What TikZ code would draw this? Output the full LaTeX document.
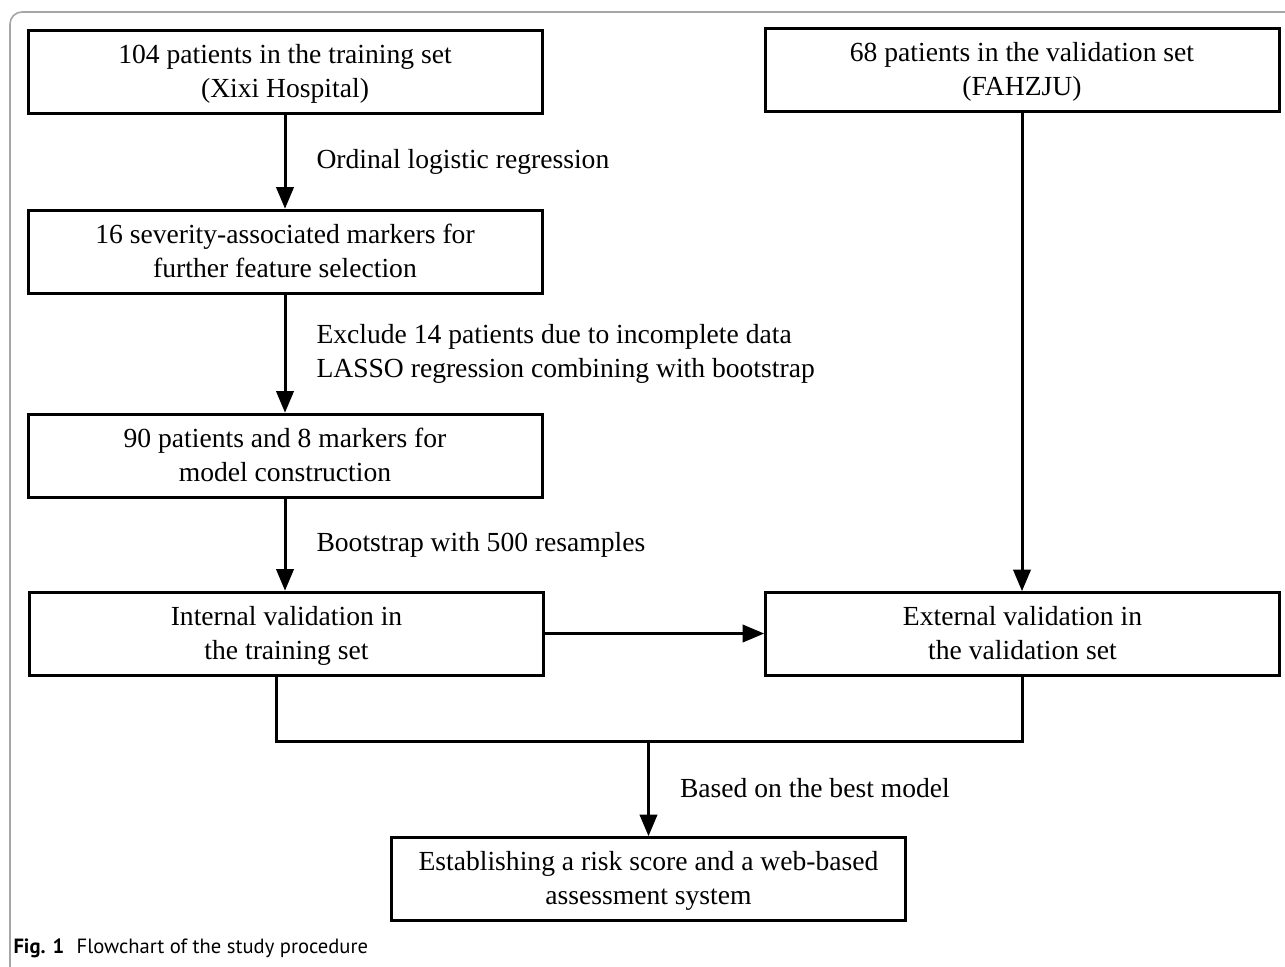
\documentclass[tikz,border=0pt]{standalone}
\usepackage{fontspec}
\setmainfont{Liberation Serif}
\newfontfamily\capfont{PT Sans}
\usetikzlibrary{arrows,calc}

\begin{document}
\begin{tikzpicture}[x=0.5pt,y=-0.5pt,>=triangle 45,line width=1.5pt,
    font=\fontsize{13.8pt}{17pt}\selectfont,
    box/.style={draw,rectangle,minimum width=257pt,minimum height=41.5pt,
        align=center,inner sep=2pt,text depth=1pt},
    lbl/.style={midway,anchor=west,inner sep=0pt,xshift=15pt,align=left}]
  \useasboundingbox (0,0) rectangle (1285,966);
  \draw[gray!70,line width=0.8pt,rounded corners=6pt] (1290,12) -- (10,12) -- (10,972);
  \node[box] (train) at (285,71.5) {104 patients in the training set\\(Xixi Hospital)};
  \node[box] (valid) at (1022,70) {68 patients in the validation set\\(FAHZJU)};
  \node[box] (markers) at (285,251.5) {16 severity-associated markers for\\further feature selection};
  \node[box] (model) at (285,455.5) {90 patients and 8 markers for\\model construction};
  \node[box] (internal) at (286.5,633.5) {Internal validation in\\the training set};
  \node[box] (external) at (1022.5,634) {External validation in\\the validation set};
  \node[box] (score) at (648.5,879) {Establishing a risk score and a web-based\\assessment system};
  \coordinate (jl) at (276,741);
  \coordinate (jr) at (1022,741);
  \coordinate (jm) at (648.5,741);
  \draw[->] (train.south) -- (markers.north) node[lbl] {Ordinal logistic regression};
  \draw[->] (markers.south) -- (model.north) node[lbl] {Exclude 14 patients due to incomplete data\\LASSO regression combining with bootstrap};
  \draw[->] (model.south) -- (model.south |- internal.north) node[lbl] {Bootstrap with 500 resamples};
  \draw[->] (internal.east) -- (internal.east -| external.west);
  \draw[->] (valid.south) -- (valid.south |- external.north);
  \draw (jl |- internal.south) -- (jl) -- (jr) -- (jr |- external.south);
  \draw[->] (jm) -- (score.north) node[lbl] {Based on the best model};
  \node[anchor=base west,inner sep=0pt,font=\capfont\fontsize{10.3pt}{12pt}\selectfont] (caption) at (12,953)
    {\textbf{Fig. 1}\hspace{0.6em}Flowchart of the study procedure};
\end{tikzpicture}
\end{document}
